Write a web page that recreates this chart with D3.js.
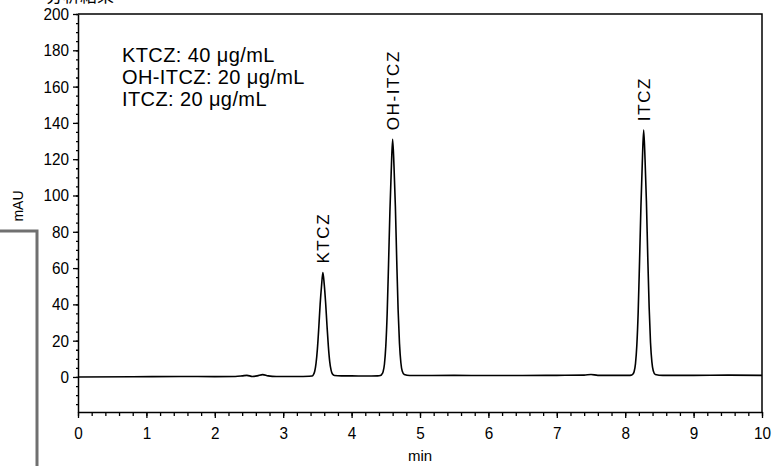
<!DOCTYPE html>
<html>
<head>
<meta charset="utf-8">
<script src="https://cdn.jsdelivr.net/npm/d3@7"></script>
<style>
  body { margin: 0; background: #fff; }
  .tick text, .axlabel { font-family: "Liberation Sans Narrow", "Liberation Sans", Arial, sans-serif; }
</style>
</head>
<body>
<div id="chart"></div>
<script>
// chromatogram trace, [min, mAU]
var baselineStart = [[0, 0], [0.8, 0.1], [1.5, 0.3], [2.0, 0.2], [2.3, 0.3], [2.4, 0.6], [2.47, 0.9], [2.55, 0.3],
  [2.62, 0.6], [2.7, 1.3], [2.78, 0.6], [2.9, 0.3], [3.2, 0.3], [3.38, 0.4]];
var ktczPeak = [[3.42, 0.5], [3.44, 1.2], [3.46, 3], [3.48, 7.5], [3.50, 15.5], [3.52, 27], [3.54, 40], [3.56, 50],
  [3.58, 57.5], [3.60, 51], [3.62, 41], [3.64, 28.5], [3.66, 17], [3.68, 8.5], [3.70, 3.8], [3.72, 1.6], [3.75, 0.8]];
var baselineMid1 = [[3.85, 0.6], [4.0, 0.6], [4.2, 0.5], [4.38, 0.6]];
var ohItczPeak = [[4.42, 0.8], [4.44, 1.4], [4.46, 2.8], [4.48, 7], [4.50, 17], [4.52, 35], [4.54, 62], [4.56, 91],
  [4.58, 114], [4.60, 131], [4.62, 116], [4.64, 94], [4.66, 64], [4.68, 37], [4.70, 18.5], [4.72, 8], [4.74, 3.3], [4.77, 1.4]];
var baselineMid2 = [[4.85, 0.8], [5.5, 0.9], [6.0, 0.8], [6.5, 0.8], [7.0, 0.9], [7.4, 1.0], [7.5, 1.4], [7.6, 0.9],
  [7.9, 0.9], [8.05, 0.9]];
var itczPeak = [[8.09, 1.0], [8.11, 1.5], [8.13, 2.9], [8.15, 7.2], [8.17, 17.5], [8.19, 36], [8.21, 64], [8.23, 94],
  [8.25, 118], [8.27, 136], [8.29, 120], [8.31, 97], [8.33, 66], [8.35, 38.5], [8.37, 19], [8.39, 8.3], [8.41, 3.4], [8.44, 1.4]];
var baselineEnd = [[8.55, 0.9], [9.0, 0.9], [9.5, 1.0], [10.0, 0.9]];

var peakNames = ['KTCZ', 'OH-ITCZ', 'ITCZ'];
var peakTimes = [3.58, 4.60, 8.27];
var peakHeights = [57.5, 131, 136];

var legendLines = ['KTCZ: 40 μg/mL', 'OH-ITCZ: 20 μg/mL', 'ITCZ: 20 μg/mL'];
var xTickValues = [0, 1, 2, 3, 4, 5, 6, 7, 8, 9, 10];
var yTickValues = [0, 20, 40, 60, 80, 100, 120, 140, 160, 180, 200];

function drawChromatogram() {
  var trace = baselineStart.concat(ktczPeak, baselineMid1, ohItczPeak, baselineMid2, itczPeak, baselineEnd);

  var svg = d3.select('#chart').append('svg')
    .attr('width', 784)
    .attr('height', 466);

  svg.append('rect').attr('width', 784).attr('height', 466).attr('fill', '#fff');

  var plotLeft = 78, plotRight = 762, plotTop = 14, plotBottom = 412;

  var x = d3.scaleLinear().domain([0, 10]).range([plotLeft, plotRight]);
  var y = d3.scaleLinear().domain([-19.3, 200]).range([plotBottom, plotTop]);

  // cut-off title at the very top
  svg.append('text')
    .attr('x', 46).attr('y', 2)
    .style('font-family', '"Noto Sans CJK JP", sans-serif')
    .style('font-size', '17px')
    .text('分析結果');

  // gray bracket on the left
  svg.append('path')
    .attr('d', 'M0,231 H37 V466')
    .attr('fill', 'none')
    .attr('stroke', '#707070')
    .attr('stroke-width', 3);

  // frame: top and right
  svg.append('path')
    .attr('d', 'M' + plotLeft + ',' + y(200) + ' H' + plotRight + ' V' + plotBottom)
    .attr('fill', 'none')
    .attr('stroke', '#000')
    .attr('stroke-width', 1.5);

  // minor ticks
  svg.append('g')
    .attr('transform', 'translate(0,' + plotBottom + ')')
    .call(d3.axisBottom(x).tickValues(d3.range(0, 10.001, 0.2)).tickSize(4).tickFormat(''))
    .call(function(g) { g.select('.domain').remove(); });
  svg.append('g')
    .attr('transform', 'translate(' + plotLeft + ',0)')
    .call(d3.axisLeft(y).tickValues(d3.range(-15, 200.001, 5)).tickSize(2).tickFormat(''))
    .call(function(g) { g.select('.domain').remove(); });

  var xAxis = svg.append('g')
    .attr('transform', 'translate(0,' + plotBottom + ')')
    .call(d3.axisBottom(x).tickValues(xTickValues).tickSize(6).tickSizeOuter(0).tickPadding(9));
  var yAxis = svg.append('g')
    .attr('transform', 'translate(' + plotLeft + ',0)')
    .call(d3.axisLeft(y).tickValues(yTickValues).tickSize(5).tickSizeOuter(0).tickPadding(4));

  [xAxis, yAxis].forEach(function(g) {
    g.selectAll('.tick text').style('font-size', '17px').attr('fill', '#000');
    g.selectAll('.domain').attr('stroke', '#000').attr('stroke-width', 1.5);
  });
  // slightly condensed digits
  xAxis.selectAll('.tick text').attr('transform', 'scale(0.9,1)');
  yAxis.selectAll('.tick text').attr('x', -9 / 0.9).attr('transform', 'scale(0.9,1)');
  svg.selectAll('.tick line').attr('stroke', '#000').attr('stroke-width', 1.3);

  svg.append('text')
    .attr('class', 'axlabel')
    .attr('x', x(5)).attr('y', 461)
    .attr('text-anchor', 'middle')
    .style('font-size', '15px')
    .text('min');

  svg.append('text')
    .attr('class', 'axlabel')
    .attr('transform', 'translate(23,206) rotate(-90)')
    .attr('text-anchor', 'middle')
    .style('font-size', '14px')
    .text('mAU');

  // trace
  var line = d3.line()
    .x(function(d) { return x(d[0]); })
    .y(function(d) { return y(d[1]); })
    .curve(d3.curveMonotoneX);

  svg.append('path')
    .datum(trace)
    .attr('d', line)
    .attr('fill', 'none')
    .attr('stroke', '#000')
    .attr('stroke-width', 1.6);

  // peak labels
  svg.selectAll('.peaklabel')
    .data(peakNames)
   .enter().append('text')
    .attr('class', 'peaklabel')
    .attr('transform', function(d, i) {
      return 'translate(' + (x(peakTimes[i]) + 6) + ',' + (y(peakHeights[i]) - 9) + ') rotate(-90)';
    })
    .style('font-family', '"Liberation Sans", Arial, sans-serif')
    .style('font-size', '17px')
    .style('letter-spacing', '1.6px')
    .text(function(d) { return d; });

  // legend text
  svg.selectAll('.legend')
    .data(legendLines)
   .enter().append('text')
    .attr('class', 'legend')
    .attr('x', 122)
    .attr('y', function(d, i) { return 62 + i * 22; })
    .style('font-family', '"Liberation Sans", Arial, sans-serif')
    .style('font-size', '20px')
    .style('letter-spacing', '0.4px')
    .text(function(d) { return d; });
}

drawChromatogram();
</script>
</body>
</html>
